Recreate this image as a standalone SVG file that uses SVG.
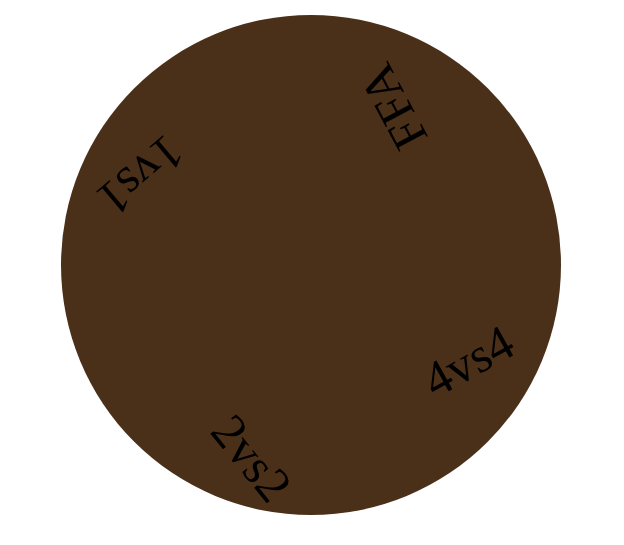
<svg xmlns="http://www.w3.org/2000/svg" width="624" height="545" viewBox="0 0 624 545">
<style>
.lbl{font-family:"Liberation Serif","Times New Roman",serif;font-size:50px;fill:#000;text-anchor:middle}
</style>
<rect width="624" height="545" fill="#fff"/>
<g id="wheel">
<circle cx="311" cy="265" r="250" fill="#4b3019"/>
</g>
<g id="label-1vs1" transform="translate(141,176) rotate(140)"><text class="lbl" x="0" y="17">1vs1</text></g>
<g id="label-FFA" transform="translate(393,107) rotate(-118)"><text class="lbl" x="0" y="17">FFA</text></g>
<g id="label-4vs4" transform="translate(468,361) rotate(-29)"><text class="lbl" x="0" y="17">4vs4</text></g>
<g id="label-2vs2" transform="translate(252,458) rotate(51)"><text class="lbl" x="0" y="17">2vs2</text></g>
<g id="connectors"></g>
</svg>
